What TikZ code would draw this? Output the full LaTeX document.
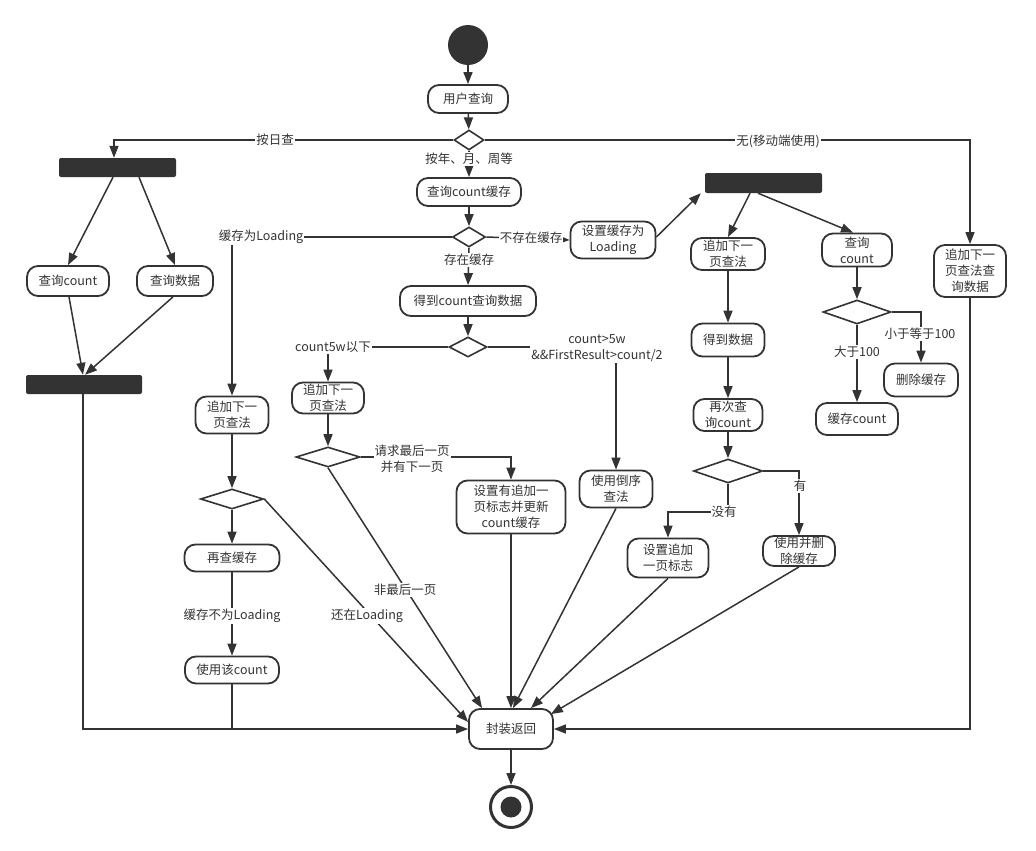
\documentclass[tikz,border=0pt]{standalone}
\usepackage{fontspec}
\setmainfont{Noto Sans CJK SC}
\usetikzlibrary{arrows.meta,shapes.geometric}
\definecolor{ink}{HTML}{333333}
\begin{document}
\begin{tikzpicture}[x=1pt,y=-1pt,
 every node/.style={font=\fontsize{12.5}{16}\selectfont, text=ink},
 act/.style={draw=ink, line width=1.8pt, rounded corners=11pt, fill=white, inner sep=0pt, align=center},
 dec/.style={draw=ink, line width=1.6pt, diamond, inner sep=0pt, fill=white},
 bar/.style={fill=ink, rounded corners=2pt, inner sep=0pt},
 arr/.style={draw=ink, line width=1.5pt, -{Triangle[length=12pt,width=9pt]}},
 ln/.style={draw=ink, line width=1.5pt},
 lab/.style={fill=white, inner sep=1pt, align=center}]
\useasboundingbox (0,0) rectangle (1036,851);

% start / end
\node[circle, fill=ink, minimum size=40pt, inner sep=0pt] (start) at (468,45) {};
\node[circle, draw=ink, line width=3pt, minimum size=41pt, inner sep=0pt] (end) at (511,807) {};
\fill[ink] (end.center) circle (10.5pt);

% main column
\node[act, minimum width=80pt, minimum height=28pt] (q1) at (468,99) {用户查询};
\node[dec, minimum width=30pt, minimum height=20pt] (d1) at (469,140) {};
\node[act, minimum width=104pt, minimum height=28pt] (q2) at (469,192) {查询count缓存};
\node[dec, minimum width=33pt, minimum height=20pt] (d2) at (469,237) {};
\node[act, minimum width=136pt, minimum height=30pt] (g) at (468,301) {得到count查询数据};
\node[dec, minimum width=38pt, minimum height=20pt] (d5) at (468,347) {};

% left (day query)
\node[bar, minimum width=117pt, minimum height=19pt] (fork1) at (117.5,167.5) {};
\node[act, minimum width=82pt, minimum height=30pt] (qc) at (68,281) {查询count};
\node[act, minimum width=76pt, minimum height=30pt] (qd) at (175,281) {查询数据};
\node[bar, minimum width=116pt, minimum height=19pt] (join) at (84,384.5) {};

% loading branch
\node[act, minimum width=73pt, minimum height=37pt] (lq) at (232,415) {追加下一\\页查法};
\node[dec, minimum width=63pt, minimum height=20pt] (d7) at (232,499) {};
\node[act, minimum width=95pt, minimum height=27pt] (rc) at (232,558) {再查缓存};
\node[act, minimum width=94pt, minimum height=27pt] (uc) at (232,670) {使用该count};

% count5w branch
\node[act, minimum width=72pt, minimum height=31pt] (ap2) at (328,398) {追加下一\\页查法};
\node[dec, minimum width=64pt, minimum height=20pt] (d6) at (328,457) {};
\node[act, minimum width=109pt, minimum height=53pt] (sa) at (511,507) {设置有追加一\\页标志并更新\\count缓存};
\node[act, minimum width=73pt, minimum height=37pt] (rev) at (616,489) {使用倒序\\查法};

% not-in-cache branch
\node[act, minimum width=85pt, minimum height=37pt] (sl) at (613,240) {设置缓存为\\Loading};
\node[bar, minimum width=117pt, minimum height=20pt] (fork2) at (763.5,183) {};
\node[act, minimum width=74pt, minimum height=32pt] (ap) at (728,254) {追加下一\\页查法};
\node[act, minimum width=73pt, minimum height=33pt] (gd) at (728,340) {得到数据};
\node[act, minimum width=69pt, minimum height=32pt] (rq) at (728,415) {再次查\\询count};
\node[dec, minimum width=69pt, minimum height=24pt] (d4) at (728,471) {};
\node[act, minimum width=81pt, minimum height=39pt] (sf) at (668,558) {设置追加\\一页标志};
\node[act, minimum width=72pt, minimum height=30pt] (ud) at (799,551) {使用并删\\除缓存};
\node[act, minimum width=70pt, minimum height=33pt] (qc2) at (857,250) {查询\\count};
\node[dec, minimum width=68pt, minimum height=24pt] (d3) at (857,312) {};
\node[act, minimum width=74pt, minimum height=33pt] (dc) at (921,380) {删除缓存};
\node[act, minimum width=82pt, minimum height=32pt] (cc) at (857,419) {缓存count};

% mobile branch
\node[act, minimum width=72pt, minimum height=52pt] (rb) at (970,271) {追加下一\\页查法查\\询数据};

% return
\node[act, minimum width=84pt, minimum height=40pt] (ret) at (511,729) {封装返回};

% ---- connectors ----
\draw[arr] (start) -- (q1);
\draw[arr] (q1) -- (d1);
\draw[arr] (d1.west) -| ([xshift=-3.5pt]fork1.north);
\draw[arr] (d1.east) -| (rb.north);
\draw[arr] (d1.south) -- (q2.north);
\draw[arr] ([xshift=-4.5pt]fork1.south) -- (qc.north);
\draw[arr] ([xshift=21.5pt]fork1.south) -- (qd.north);
\draw[arr] ([xshift=1pt]qc.south) -- ([xshift=-1pt]join.north);
\draw[arr] ([xshift=-2pt]qd.south) -- ([xshift=1pt]join.north);
\draw[arr] ([xshift=-1pt]join.south) |- (ret.west);
\draw[arr] (q2) -- (d2);
\draw[arr] (d2.south) -- (g.north);
\draw[arr] (d2.west) -| (lq.north);
\draw[arr] (d2.east) -- (sl.west);
\draw[arr] ([yshift=3pt]sl.east) -- ([xshift=-4pt]fork2.south west);
\draw[arr] ([xshift=-13.5pt]fork2.south) -- (ap.north);
\draw[arr] ([xshift=-5.5pt]fork2.south) -- ([xshift=-4pt]qc2.north);
\draw[arr] (ap) -- (gd);
\draw[arr] (gd) -- (rq);
\draw[arr] (rq) -- (d4);
\draw[arr] (d4.east) -| (ud.north);
\draw[arr] (d4.south) -- ++(0,28) -| (sf.north);
\draw[arr] (qc2) -- (d3);
\draw[arr] (d3.east) -| (dc.north);
\draw[arr] (d3.south) -- (cc.north);
\draw[arr] (g) -- (d5);
\draw[arr] (d5.west) -| (ap2.north);
\draw[arr] (d5.east) -| (rev.north);
\draw[arr] (ap2) -- (d6);
\draw[arr] (d6.east) -| (sa.north);
\draw[arr] (d6.south) -- ([xshift=-29pt]ret.north);
\draw[arr] (lq) -- (d7);
\draw[arr] (d7.south) -- (rc.north);
\draw[arr] (rc.south) -- (uc.north);
\draw[ln] (uc.south) -- (uc.south |- ret.west);
\draw[arr] (d7.east) -- ([yshift=7pt]ret.west);
\draw[arr] (sa.south) -- (ret.north);
\draw[arr] (rev.south) -- ([xshift=2pt]ret.north);
\draw[arr] (sf.south) -- ([xshift=20pt]ret.north);
\draw[arr] (ud.south) -- ([xshift=-3pt,yshift=-6pt]ret.north east);
\draw[arr] (rb.south) |- (ret.east);
\draw[arr] (ret) -- (end);

% ---- labels ----
\node[lab] (l1) at (275,140) {按日查};
\node[lab] (l2) at (778,141) {无(移动端使用)};
\node[lab] (l3) at (469,159) {按年、月、周等};
\node[lab] (l4) at (261,237) {缓存为Loading};
\node[lab] (l5) at (531,238) {不存在缓存};
\node[lab] (l6) at (469,260) {存在缓存};
\node[lab] (l7) at (333,347) {count5w以下};
\node[lab, font=\fontsize{12.5}{16}\selectfont] (l8) at (597,348) {count>5w\\\&\&FirstResult>count/2};
\node[lab] (l9) at (412,459) {请求最后一页\\并有下一页};
\node[lab] (l10) at (405,590) {非最后一页};
\node[lab] (l11) at (367,616) {还在Loading};
\node[lab] (l12) at (232,616) {缓存不为Loading};
\node[lab] (l13) at (724,512) {没有};
\node[lab] (l14) at (800,486) {有};
\node[lab] (l15) at (920,334) {小于等于100};
\node[lab] (l16) at (857,352) {大于100};
\end{tikzpicture}
\end{document}
